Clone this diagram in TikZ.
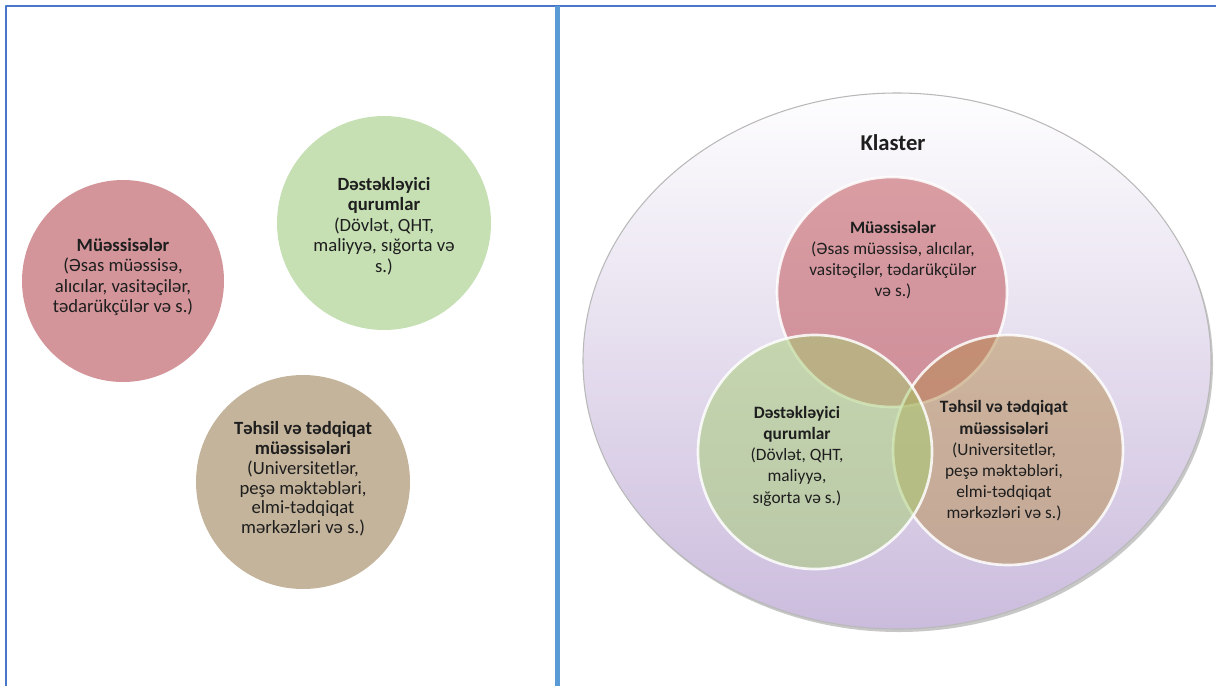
\documentclass[tikz,border=0pt]{standalone}
\usepackage{fontspec}
\setmainfont{Carlito}

\definecolor{framebl}{RGB}{74,118,201}
\definecolor{splitbl}{RGB}{91,155,213}
\definecolor{rose}{RGB}{211,149,154}
\definecolor{sage}{RGB}{198,224,180}
\definecolor{sand}{RGB}{196,180,155}
\definecolor{roseT}{RGB}{190,72,76}
\definecolor{sageT}{RGB}{165,205,112}
\definecolor{sandT}{RGB}{182,140,78}
\definecolor{lilac}{RGB}{203,188,221}
\definecolor{ink}{RGB}{30,30,30}

\tikzset{
  txt/.style={align=center, text=ink, inner sep=0pt,
    font=\fontsize{13}{15.9}\selectfont},
  bigtxt/.style={txt, font=\fontsize{14}{15.3}\selectfont},
  ring/.style={fill=#1, fill opacity=0.5, draw=white, draw opacity=0.85, line width=2pt},
}

\begin{document}
\begin{tikzpicture}[x=0.75pt, y=-0.75pt, line join=round]
    \useasboundingbox (0,0) rectangle (1216,686);
    % frame and divider
    \draw[framebl, line width=1.5pt] (6,686) -- (6,6) -- (1216,6);
    \draw[splitbl, line width=3.75pt] (557,6) -- (557,686);

    % left half: three separate circles
    \fill[rose] (123,281) circle (101);
    \fill[sage] (384,223) circle (107);
    \fill[sand] (303,482) circle (107);
    \node[bigtxt] (firmsL) at (123,277) {\textbf{Müəssisələr}\\(Əsas müəssisə,\\alıcılar, vasitəçilər,\\tədarükçülər və s.)};
    \node[bigtxt] (supportL) at (384,226) {\textbf{Dəstəkləyici}\\\textbf{qurumlar}\\(Dövlət, QHT,\\maliyyə, sığorta və\\s.)};
    \node[bigtxt, font=\fontsize{14}{14.8}\selectfont] (eduL) at (303,479) {\textbf{Təhsil və tədqiqat}\\\textbf{müəssisələri}\\(Universitetlər,\\peşə məktəbləri,\\elmi-tədqiqat\\mərkəzləri və s.)};

    % right half: the cluster
    \fill[black!22] (899,364) ellipse [x radius=314, y radius=268];
    \shade[top color=white!97!lilac, bottom color=lilac, draw=gray!55, line width=0.8pt]
        (897,361) ellipse [x radius=314, y radius=268];
    \node[font=\fontsize{17}{20}\selectfont\bfseries, text=ink] (cluster) at (893,143) {Klaster};
    \path[ring=roseT] (892,292) circle (115);
    \path[ring=sandT] (1008,450) circle (115);
    \path[ring=sageT] (815,452) circle (117);
    \node[txt] (firmsR) at (893,260) {\textbf{Müəssisələr}\\(Əsas müəssisə, alıcılar,\\vasitəçilər, tədarükçülər\\və s.)};
    \node[txt] (supportR) at (797,456) {\textbf{Dəstəkləyici}\\\textbf{qurumlar}\\(Dövlət, QHT,\\maliyyə,\\sığorta və s.)};
    \node[txt] (eduR) at (1004,461) {\textbf{Təhsil və tədqiqat}\\\textbf{müəssisələri}\\(Universitetlər,\\peşə məktəbləri,\\elmi-tədqiqat\\mərkəzləri və s.)};
\end{tikzpicture}
\end{document}
